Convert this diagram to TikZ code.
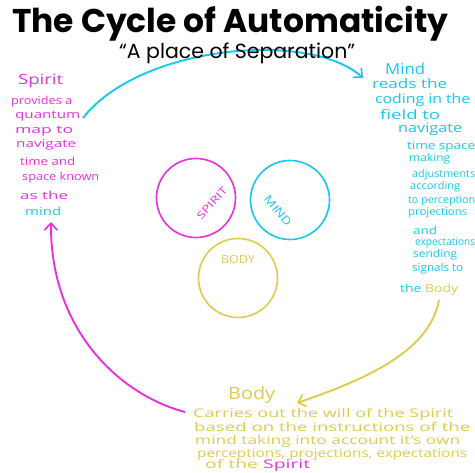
\documentclass[tikz,border=0pt]{standalone}
\usepackage{fontspec}
\usepackage{graphicx}
\usetikzlibrary{arrows.meta}
\setmainfont{Open Sans}
\newfontfamily\titlefont{Poppins}
\definecolor{spiritc}{RGB}{230,50,222}
\definecolor{mindc}{RGB}{25,200,235}
\definecolor{bodyc}{RGB}{222,203,78}
% #1 name, #2 x, #3 baseline y, #4 width, #5 colour, #6 font size, #7 text
\newcommand{\hwline}[7]{\node[txt,text=#5] (#1) at (#2,#3) {\resizebox{#4pt}{\height}{\fontsize{#6}{#6}\selectfont #7}};}
\begin{document}
\begin{tikzpicture}[x=1pt,y=-1pt,
  txt/.style={inner sep=0pt,anchor=base west},
  cyc/.style={line width=1.9pt,-{Straight Barb[length=7pt,width=13pt,line width=1.6pt]}},
  ring/.style={line width=1.6pt,minimum size=79pt,circle,inner sep=0pt},
  lab/.style={inner sep=0pt}]
\useasboundingbox[fill=white] (0,0) rectangle (475,473);

% connector end points
\coordinate (b0) at (83,118);
\coordinate (b1) at (363,78);
\coordinate (y0) at (439,300);
\coordinate (y1) at (297,403);
\coordinate (m0) at (185,412);
\coordinate (m1) at (51,222);

\draw[cyc,mindc] (b0) .. controls (140,45) and (310,30) .. (b1);
\draw[cyc,bodyc] (y0) .. controls (430,350) and (370,378) .. (y1);
\draw[cyc,spiritc] (m0) .. controls (120,395) and (50,330) .. (m1);

% circles
\node[ring,draw=spiritc] (cs) at (196,198) {};
\node[ring,draw=mindc] (cm) at (290,200) {};
\node[ring,draw=bodyc] (cb) at (238,278) {};
\node[lab,text=spiritc,rotate=48] (ls) at (212,203) {\resizebox{40pt}{\height}{\fontsize{10}{10}\selectfont SPIRIT}};
\node[lab,text=mindc,rotate=-50] (lm) at (278,211) {\resizebox{36pt}{\height}{\fontsize{11}{11}\selectfont MIND}};
\node[lab,text=bodyc] (lb) at (238,260) {\resizebox{34pt}{\height}{\fontsize{11}{11}\selectfont BODY}};

% title
\node[txt] (title) at (12,33) {\resizebox{436pt}{!}{\titlefont\bfseries\fontsize{30}{30}\selectfont The Cycle of Automaticity}};
\node[txt] (sub) at (119,59) {\resizebox{236pt}{!}{\titlefont\fontsize{14}{14}\selectfont “A place of Separation”}};

% Spirit text
\hwline{s0}{18}{85}{45}{spiritc}{14}{Spirit}
\hwline{s1}{11}{105}{61}{spiritc}{11}{provides a}
\hwline{s2}{15}{119}{65}{spiritc}{11}{quantum}
\hwline{s3}{15}{134}{58}{spiritc}{11}{map to}
\hwline{s4}{16}{148}{60}{spiritc}{11}{navigate}
\hwline{s5}{20}{166}{55}{spiritc}{11}{time and}
\hwline{s6}{22}{181}{77}{spiritc}{11}{space known}
\hwline{s7}{20}{200}{48}{spiritc}{11}{as the}
\hwline{s8}{25}{216}{36}{mindc}{11}{mind}

% Mind text
\hwline{n0}{385}{75}{40}{mindc}{15}{Mind}
\hwline{n1}{372}{89}{75}{mindc}{13}{reads the}
\hwline{n2}{375}{104}{95}{mindc}{13}{coding in the}
\hwline{n3}{380}{120}{60}{mindc}{13}{field to}
\hwline{n4}{398}{133}{64}{mindc}{13}{navigate}
\hwline{n5}{407}{150}{68}{mindc}{11}{time space}
\hwline{n6}{409}{162}{41}{mindc}{10.5}{making}
\hwline{n7}{412}{178}{63}{mindc}{10.5}{adjustments}
\hwline{n8}{410}{190}{50}{mindc}{10.5}{according}
\hwline{n9}{408}{204}{67}{mindc}{10.5}{to perception}
\hwline{n10}{408}{216}{59}{mindc}{10.5}{projections}
\hwline{n11}{413}{235}{24}{mindc}{10.5}{and}
\hwline{n12}{415}{246}{60}{mindc}{10.5}{expectations}
\hwline{n13}{413}{258}{44}{mindc}{10.5}{sending}
\hwline{n14}{412}{272}{51}{mindc}{11}{signals to}
\hwline{n15}{400}{293}{58}{mindc}{11}{the \textcolor{bodyc}{Body}}

% Body text
\hwline{t0}{228}{400}{47}{bodyc}{17}{Body}
\hwline{t1}{193}{418}{260}{bodyc}{12}{Carries out the will of the Spirit}
\hwline{t2}{194}{432}{276}{bodyc}{12}{based on the instructions of the}
\hwline{t3}{195}{445}{265}{bodyc}{12}{mind taking into account it's own}
\hwline{t4}{197}{458}{270}{bodyc}{12}{perceptions, projections, expectations}
\hwline{t5}{205}{469}{105}{bodyc}{12}{of the \textcolor{spiritc}{Spirit}}
\end{tikzpicture}
\end{document}
